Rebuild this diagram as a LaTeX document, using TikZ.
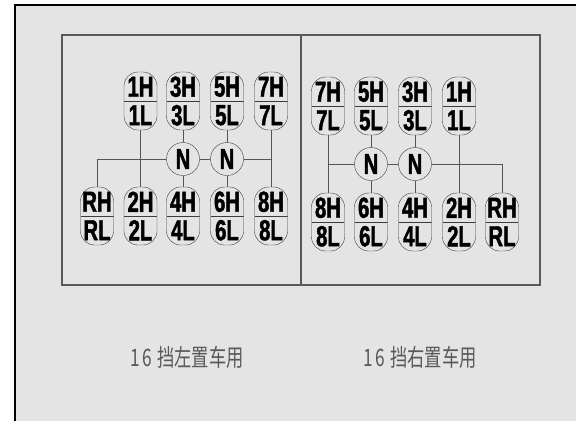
\documentclass[tikz,border=0pt]{standalone}
\usepackage{fontspec}
\usepackage{xcolor}
\usepackage{tikz}
\usetikzlibrary{positioning,calc}
\newfontfamily\gearfont[FakeStretch=0.7,FakeBold=1.5]{Liberation Sans}
\newfontfamily\cjkfont[FakeStretch=0.72]{Noto Sans CJK SC}
\definecolor{panel}{HTML}{E4E4E4}
\definecolor{rodgray}{HTML}{555555}

\begin{document}
\begin{tikzpicture}[x=1pt,y=-1pt,
  gear/.style={draw=rodgray!70!black,rounded corners=14pt,fill=panel,
              minimum width=33pt,minimum height=58pt,inner sep=0pt,align=center,
              font=\gearfont\bfseries\fontsize{29}{28.5}\selectfont,
              path picture={\draw[rodgray!70!black]
                (path picture bounding box.west) -- (path picture bounding box.east);}},
  neutral/.style={draw=rodgray!70!black,circle,fill=panel,minimum size=33pt,
              inner sep=0pt,font=\gearfont\bfseries\fontsize{29}{29}\selectfont},
  link/.style={draw=rodgray,line width=0.9pt},
  frame/.style={draw=black!65,line width=1.3pt},
  caption/.style={font=\cjkfont\fontsize{24}{28}\selectfont,text=black!65}]
  \useasboundingbox (0,0) rectangle (576,421);
  \fill[panel] (15,5) rectangle (576,421);
  \draw[line width=1.8pt] (15,421) -- (15,5) -- (576,5);
  \draw[frame] (62,35) rectangle (540,285);
  \draw[frame] (301,35) -- (301,285);

  \node[gear] (l1) at (140.5,101) {1H\\1L};
  \node[gear] (l3) at (183,101) {3H\\3L};
  \node[gear] (l5) at (227,101) {5H\\5L};
  \node[gear] (l7) at (271,101) {7H\\7L};
  \node[gear] (lR) at (97,216) {RH\\RL};
  \node[gear] (l2) at (140.5,216) {2H\\2L};
  \node[gear] (l4) at (183,216) {4H\\4L};
  \node[gear] (l6) at (227,216) {6H\\6L};
  \node[gear] (l8) at (271,216) {8H\\8L};
  \node[neutral] (lnA) at (183,159) {N};
  \node[neutral] (lnB) at (227,159) {N};
  \draw[link] (lR.north) |- (lnA.west);
  \draw[link] (lnA.east) -- (lnB.west);
  \draw[link] (lnB.east) -- (lnB -| l8);
  \draw[link] (l1.south) -- (l2.north);
  \draw[link] (l7.south) -- (l8.north);
  \draw[link] (l3.south) -- (lnA.north);
  \draw[link] (lnA.south) -- (l4.north);
  \draw[link] (l5.south) -- (lnB.north);
  \draw[link] (lnB.south) -- (l6.north);

  \node[gear] (r7) at (328,106) {7H\\7L};
  \node[gear] (r5) at (371,106) {5H\\5L};
  \node[gear] (r3) at (415,106) {3H\\3L};
  \node[gear] (r1) at (459,106) {1H\\1L};
  \node[gear] (r8) at (328,222) {8H\\8L};
  \node[gear] (r6) at (371,222) {6H\\6L};
  \node[gear] (r4) at (415,222) {4H\\4L};
  \node[gear] (r2) at (459,222) {2H\\2L};
  \node[gear] (rR) at (502,222) {RH\\RL};
  \node[neutral] (rnA) at (371,164) {N};
  \node[neutral] (rnB) at (415,164) {N};
  \draw[link] (r7.south) -- (r8.north);
  \draw[link] (rnA -| r7) -- (rnA.west);
  \draw[link] (rnA.east) -- (rnB.west);
  \draw[link] (rnB.east) -| (rR.north);
  \draw[link] (r1.south) -- (r2.north);
  \draw[link] (r5.south) -- (rnA.north);
  \draw[link] (rnA.south) -- (r6.north);
  \draw[link] (r3.south) -- (rnB.north);
  \draw[link] (rnB.south) -- (r4.north);

  \node[caption] (capL) at (187,357) {1\kern3pt6\kern5pt挡左置车用};
  \node[caption] (capR) at (420,357) {1\kern3pt6\kern5pt挡右置车用};
\end{tikzpicture}
\end{document}
